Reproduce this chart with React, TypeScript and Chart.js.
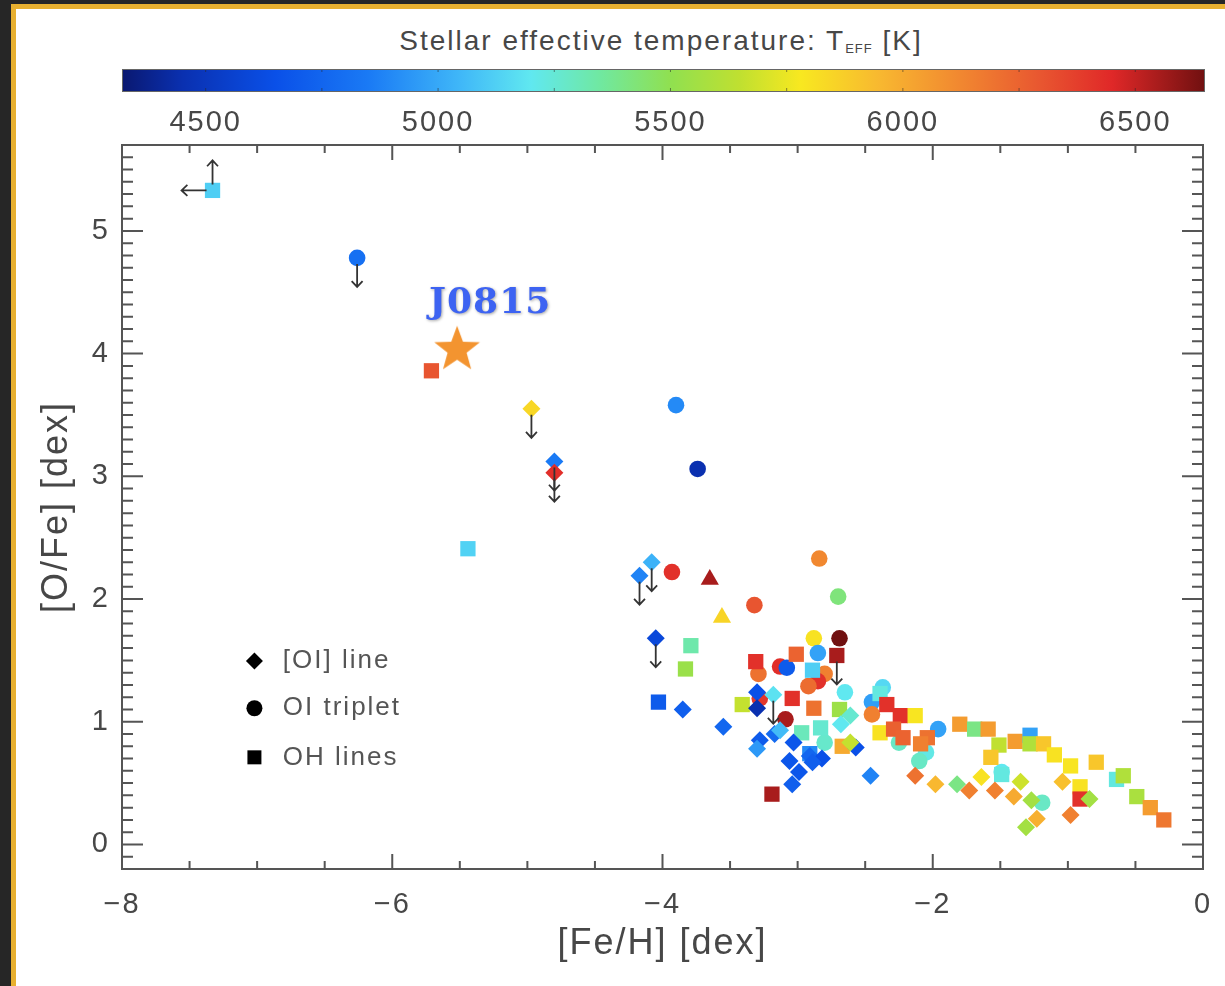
import React, { useEffect, useRef } from 'react';
import { Chart, registerables } from 'chart.js';

Chart.register(...registerables);

const FONT = "'Liberation Sans', Arial, 'DejaVu Sans', sans-serif";
const TEXT = '#474747';
const AXIS = '#555555';

// ---------- colour scale: stellar effective temperature ----------
const TEFF_MIN = 4320;
const TEFF_MAX = 6650;
const TEFF_TICKS = [4500, 5000, 5500, 6000, 6500];
const TEFF_STOPS = [4320, 4450, 4650, 4850, 5050, 5200, 5350, 5500, 5650, 5780, 5950, 6150, 6300, 6450, 6650];
const TEFF_COLORS = ['#0a1870', '#0a30b0', '#0a50e8', '#1a7af5', '#40b8f8', '#60e8f0', '#70e8a0', '#90e050', '#c0e030', '#f8e820', '#f8b830', '#f08030', '#e85530', '#e02828', '#701010'];

// ---------- axes ----------
const FEH_MIN = -8;
const FEH_MAX = 0;
const OFE_MIN = -0.2;
const OFE_MAX = 5.7;
const FEH_TICKS = [-8, -6, -4, -2, 0];
const OFE_TICKS = [0, 1, 2, 3, 4, 5];

// ---------- [OI] line (diamonds) ----------
const OI_LINE_FEH = [-4.97, -4.80, -4.80, -4.08, -4.17, -4.05, -3.85, -3.55, -3.30, -3.18, -3.30, -2.61, -2.68, -3.17, -3.13, -2.57, -2.61, -3.28, -3.30, -3.03, -3.06, -2.91, -2.82, -2.89, -2.99, -3.04, -2.46, -2.13, -1.98, -1.82, -1.64, -1.73, -1.54, -1.40, -1.35, -1.27, -1.23, -1.31, -1.04, -0.84, -0.98];
const OI_LINE_OFE = [3.55, 3.12, 3.03, 2.30, 2.19, 1.68, 1.10, 0.96, 1.24, 1.22, 1.11, 1.05, 0.98, 0.90, 0.93, 0.79, 0.83, 0.85, 0.78, 0.83, 0.68, 0.72, 0.70, 0.67, 0.59, 0.49, 0.56, 0.56, 0.49, 0.49, 0.55, 0.44, 0.44, 0.39, 0.51, 0.36, 0.21, 0.14, 0.51, 0.37, 0.24];
const OI_LINE_TEFF = [5840, 4850, 6430, 5030, 4880, 4600, 4720, 4760, 4650, 5180, 4450, 5260, 5200, 4780, 5060, 4650, 5660, 4700, 4950, 4680, 4680, 4760, 4650, 4720, 4680, 4720, 4880, 6200, 5950, 5400, 5800, 6150, 6150, 6000, 5680, 5560, 5980, 5560, 5920, 5560, 6150];
const OI_LINE_LIMIT = ['down', 'down', 'down', 'down', 'down', 'down', '', '', '', 'down', '', '', '', '', '', '', '', '', '', '', '', '', '', '', '', '', '', '', '', '', '', '', '', '', '', '', '', '', '', '', ''];

// ---------- OI triplet (circles) ----------
const OI_TRIPLET_FEH = [-6.26, -3.90, -3.74, -3.93, -2.84, -2.70, -3.32, -2.88, -2.69, -2.85, -3.13, -3.08, -3.29, -2.80, -2.85, -2.92, -2.65, -3.28, -3.09, -2.80, -2.37, -2.45, -2.45, -2.25, -1.96, -2.05, -2.10, -1.49, -1.19];
const OI_TRIPLET_OFE = [4.78, 3.58, 3.06, 2.22, 2.33, 2.02, 1.95, 1.68, 1.68, 1.56, 1.45, 1.44, 1.39, 1.39, 1.33, 1.29, 1.24, 1.19, 1.02, 0.83, 1.28, 1.16, 1.06, 0.83, 0.94, 0.75, 0.68, 0.59, 0.34];
const OI_TRIPLET_TEFF = [4800, 4900, 4450, 6420, 6120, 5420, 6300, 5800, 6650, 4980, 6430, 4700, 6200, 6150, 6420, 6220, 5200, 6400, 6550, 5270, 5150, 4970, 6150, 5280, 4980, 5220, 5280, 5200, 5280];
const OI_TRIPLET_LIMIT = ['down', '', '', '', '', '', '', '', '', '', '', '', '', '', '', '', '', '', '', '', '', '', '', '', '', '', '', '', ''];

// ---------- OH lines (squares) ----------
const OH_FEH = [-7.33, -5.71, -5.44, -3.79, -3.83, -4.03, -3.01, -2.71, -3.31, -2.89, -3.04, -3.41, -2.88, -2.69, -2.83, -2.97, -2.67, -3.19, -2.91, -2.39, -2.34, -2.24, -2.13, -2.39, -2.29, -2.22, -2.04, -2.09, -1.80, -1.69, -1.59, -1.51, -1.57, -1.39, -1.28, -1.28, -1.18, -1.10, -0.98, -0.79, -0.64, -0.59, -0.49, -0.39, -0.29, -1.49, -0.91, -0.91];
const OH_OFE = [5.33, 3.86, 2.41, 1.62, 1.43, 1.16, 1.55, 1.54, 1.49, 1.42, 1.19, 1.14, 1.11, 1.10, 0.95, 0.91, 0.80, 0.41, 0.74, 1.23, 1.14, 1.05, 1.05, 0.91, 0.94, 0.87, 0.87, 0.82, 0.98, 0.94, 0.94, 0.81, 0.71, 0.84, 0.89, 0.82, 0.82, 0.73, 0.64, 0.67, 0.53, 0.56, 0.39, 0.30, 0.20, 0.57, 0.47, 0.37];
const OH_TEFF = [5120, 6300, 5130, 5330, 5530, 4700, 6250, 6550, 6420, 5120, 6420, 5660, 6200, 5540, 5260, 5300, 6000, 6550, 4900, 5230, 6420, 6420, 5790, 5800, 6260, 6250, 6200, 6150, 6050, 5400, 6050, 5650, 5900, 6050, 4980, 5600, 5900, 5800, 5790, 5900, 5230, 5600, 5580, 6050, 6180, 5230, 5800, 6420];
const OH_LIMIT = ['leftup', '', '', '', '', '', '', 'down', '', '', '', '', '', '', '', '', '', '', '', '', '', '', '', '', '', '', '', '', '', '', '', '', '', '', '', '', '', '', '', '', '', '', '', '', '', '', '', ''];

// ---------- other (triangles) ----------
const TRI_FEH = [-3.65, -3.56];
const TRI_OFE = [2.16, 1.85];
const TRI_TEFF = [6550, 5850];

// ---------- J0815 ----------
const STAR_FEH = [-5.52];
const STAR_OFE = [4.04];
const STAR_TEFF = [6080];
const STAR_LABEL = 'J0815';

// ---------- legend ----------
const LEGEND_LABELS = ['[OI] line', 'OI triplet', 'OH lines'];
const LEGEND_STYLES = ['rectRot', 'circle', 'rect'];
const LEGEND_OFE = [1.495, 1.11, 0.71];
const LEGEND_MARK_FEH = -7.02;
const LEGEND_TEXT_FEH = -6.81;

function hexToRgb(h: string) {
  const n = parseInt(h.slice(1), 16);
  return [(n >> 16) & 255, (n >> 8) & 255, n & 255];
}

function teffColor(t: number): string {
  if (t <= TEFF_STOPS[0]) return TEFF_COLORS[0];
  const last = TEFF_STOPS.length - 1;
  if (t >= TEFF_STOPS[last]) return TEFF_COLORS[last];
  let i = 0;
  while (t > TEFF_STOPS[i + 1]) i++;
  const f = (t - TEFF_STOPS[i]) / (TEFF_STOPS[i + 1] - TEFF_STOPS[i]);
  const a = hexToRgb(TEFF_COLORS[i]);
  const b = hexToRgb(TEFF_COLORS[i + 1]);
  const c = a.map((v, k) => Math.round(v + (b[k] - v) * f));
  return `rgb(${c[0]},${c[1]},${c[2]})`;
}

const pts = (xs: number[], ys: number[]) => xs.map((x, i) => ({ x, y: ys[i] }));
const fmt = (v: number) => (v < 0 ? '\u2212' + Math.abs(v) : String(v));

function drawArrow(ctx: CanvasRenderingContext2D, x0: number, y0: number, x1: number, y1: number) {
  const ang = Math.atan2(y1 - y0, x1 - x0);
  const h = 8;
  ctx.beginPath();
  ctx.moveTo(x0, y0);
  ctx.lineTo(x1, y1);
  ctx.moveTo(x1 - h * Math.cos(ang - 0.75), y1 - h * Math.sin(ang - 0.75));
  ctx.lineTo(x1, y1);
  ctx.lineTo(x1 - h * Math.cos(ang + 0.75), y1 - h * Math.sin(ang + 0.75));
  ctx.stroke();
}

const noPad = (s: any) => {
  s.paddingTop = 0;
  s.paddingBottom = 0;
  s.paddingLeft = 0;
  s.paddingRight = 0;
};

const spacingPlugin = {
  id: 'spacing',
  beforeDraw(chart: any) {
    (chart.ctx as any).letterSpacing = '2px';
  },
};

const frameTicksPlugin = {
  id: 'frameTicks',
  afterDraw(chart: any) {
    const { ctx, chartArea: a, scales } = chart;
    const x = scales.x;
    const y = scales.y;
    ctx.save();
    ctx.strokeStyle = AXIS;
    ctx.lineWidth = 2;
    ctx.strokeRect(a.left, a.top, a.right - a.left, a.bottom - a.top);
    ctx.beginPath();
    for (let k = 0; k <= 16; k++) {
      const v = FEH_MIN + k * 0.5;
      const px = x.getPixelForValue(v);
      const len = k % 4 === 0 ? 15 : 8;
      ctx.moveTo(px, a.bottom);
      ctx.lineTo(px, a.bottom - len);
      ctx.moveTo(px, a.top);
      ctx.lineTo(px, a.top + len);
    }
    for (let k = -1; k <= 57; k++) {
      const py = y.getPixelForValue(k / 10);
      const len = k % 10 === 0 ? 21 : 11;
      ctx.moveTo(a.left, py);
      ctx.lineTo(a.left + len, py);
      ctx.moveTo(a.right, py);
      ctx.lineTo(a.right - len, py);
    }
    ctx.stroke();
    ctx.restore();
  },
};

const limitsPlugin = {
  id: 'limits',
  afterDatasetsDraw(chart: any) {
    const { ctx } = chart;
    ctx.save();
    ctx.strokeStyle = '#333333';
    ctx.lineWidth = 1.8;
    chart.data.datasets.forEach((ds: any, di: number) => {
      if (!ds.limits) return;
      const meta = chart.getDatasetMeta(di);
      ds.limits.forEach((lim: string, i: number) => {
        const el = meta.data[i];
        if (!el || !lim) return;
        const px = el.x;
        const py = el.y;
        if (lim === 'down') {
          drawArrow(ctx, px, py + 6, px, py + 29);
        } else if (lim === 'leftup') {
          drawArrow(ctx, px - 6, py, px - 31, py);
          drawArrow(ctx, px, py - 6, px, py - 30);
        }
      });
    });
    ctx.restore();
  },
};

const labelPlugin = {
  id: 'starLabel',
  afterDatasetsDraw(chart: any) {
    const { ctx } = chart;
    const di = chart.data.datasets.findIndex((d: any) => d.label === STAR_LABEL);
    if (di < 0) return;
    const el = chart.getDatasetMeta(di).data[0];
    ctx.save();
    (ctx as any).letterSpacing = '1px';
    ctx.font = "bold 36px 'DejaVu Serif', 'Liberation Serif', serif";
    ctx.fillStyle = '#3d63f2';
    ctx.textAlign = 'center';
    ctx.textBaseline = 'middle';
    ctx.shadowColor = 'rgba(0,0,0,0.35)';
    ctx.shadowBlur = 3;
    ctx.shadowOffsetX = 1;
    ctx.shadowOffsetY = 1;
    ctx.fillText(STAR_LABEL, el.x + 33, el.y - 45);
    ctx.restore();
  },
};

const legendPlugin = {
  id: 'markerLegend',
  afterDraw(chart: any) {
    const { ctx, scales } = chart;
    const mx = scales.x.getPixelForValue(LEGEND_MARK_FEH);
    const tx = scales.x.getPixelForValue(LEGEND_TEXT_FEH);
    ctx.save();
    LEGEND_LABELS.forEach((lab, i) => {
      const py = scales.y.getPixelForValue(LEGEND_OFE[i]);
      ctx.fillStyle = '#000000';
      ctx.beginPath();
      const st = LEGEND_STYLES[i];
      if (st === 'rectRot') {
        ctx.moveTo(mx - 8.5, py);
        ctx.lineTo(mx, py - 8.5);
        ctx.lineTo(mx + 8.5, py);
        ctx.lineTo(mx, py + 8.5);
        ctx.closePath();
      } else if (st === 'circle') {
        ctx.arc(mx, py, 8, 0, Math.PI * 2);
      } else {
        ctx.rect(mx - 7, py - 7, 14, 14);
      }
      ctx.fill();
      (ctx as any).letterSpacing = '2px';
      ctx.font = `26px ${FONT}`;
      ctx.fillStyle = '#555555';
      ctx.textAlign = 'left';
      ctx.textBaseline = 'middle';
      ctx.fillText(lab, tx, py);
    });
    ctx.restore();
  },
};

const colorbarPlugin = {
  id: 'colorbar',
  beforeDatasetsDraw(chart: any) {
    const { ctx, chartArea: a, scales } = chart;
    const x = scales.x;
    ctx.save();
    const g = ctx.createLinearGradient(a.left, 0, a.right, 0);
    TEFF_STOPS.forEach((t, i) => {
      const f = (x.getPixelForValue(t) - a.left) / (a.right - a.left);
      g.addColorStop(Math.min(1, Math.max(0, f)), TEFF_COLORS[i]);
    });
    ctx.fillStyle = g;
    ctx.fillRect(a.left, a.top, a.right - a.left, a.bottom - a.top);
    ctx.strokeStyle = 'rgba(40,40,40,0.55)';
    ctx.lineWidth = 1;
    ctx.beginPath();
    for (let t = 4500; t <= 6500; t += 250) {
      const px = x.getPixelForValue(t);
      ctx.moveTo(px, a.bottom);
      ctx.lineTo(px, a.bottom - 4);
      ctx.moveTo(px, a.top);
      ctx.lineTo(px, a.top + 3);
    }
    ctx.stroke();
    ctx.strokeStyle = '#666666';
    ctx.strokeRect(a.left + 0.5, a.top + 0.5, a.right - a.left - 1, a.bottom - a.top - 1);
    ctx.restore();
  },
};

export default function App() {
  const mainRef = useRef<HTMLCanvasElement>(null);
  const cbRef = useRef<HTMLCanvasElement>(null);

  useEffect(() => {
    const star = document.createElement('canvas');
    star.width = 52;
    star.height = 52;
    const sg = star.getContext('2d')!;
    sg.beginPath();
    for (let k = 0; k < 10; k++) {
      const R = k % 2 === 0 ? 24 : 10;
      const ang = -Math.PI / 2 + (k * Math.PI) / 5;
      sg.lineTo(26 + R * Math.cos(ang), 27 + R * Math.sin(ang));
    }
    sg.closePath();
    sg.fillStyle = teffColor(STAR_TEFF[0]);
    sg.fill();

    const tickFont = { family: FONT, size: 29 };
    const titleFont = { family: FONT, size: 36 };

    const main = new Chart(mainRef.current!, {
      type: 'scatter',
      data: {
        datasets: [
          {
            label: '[OI] line',
            data: pts(OI_LINE_FEH, OI_LINE_OFE),
            pointStyle: 'rectRot',
            pointRadius: 9,
            pointBackgroundColor: OI_LINE_TEFF.map(teffColor),
            pointBorderWidth: 0,
            limits: OI_LINE_LIMIT,
          } as any,
          {
            label: 'OH lines',
            data: pts(OH_FEH, OH_OFE),
            pointStyle: 'rect',
            pointRadius: 10.8,
            pointBackgroundColor: OH_TEFF.map(teffColor),
            pointBorderWidth: 0,
            limits: OH_LIMIT,
          } as any,
          {
            label: 'OI triplet',
            data: pts(OI_TRIPLET_FEH, OI_TRIPLET_OFE),
            pointStyle: 'circle',
            pointRadius: 8.3,
            pointBackgroundColor: OI_TRIPLET_TEFF.map(teffColor),
            pointBorderWidth: 0,
            limits: OI_TRIPLET_LIMIT,
          } as any,
          {
            label: 'other',
            data: pts(TRI_FEH, TRI_OFE),
            pointStyle: 'triangle',
            pointRadius: 10.5,
            pointBackgroundColor: TRI_TEFF.map(teffColor),
            pointBorderWidth: 0,
          },
          {
            label: STAR_LABEL,
            data: pts(STAR_FEH, STAR_OFE),
            pointStyle: star,
            pointRadius: 24,
          },
        ],
      },
      options: {
        animation: false,
        responsive: false,
        events: [],
        layout: { padding: 0, autoPadding: false },
        plugins: { legend: { display: false }, tooltip: { enabled: false } },
        scales: {
          x: {
            type: 'linear',
            position: 'bottom',
            min: FEH_MIN,
            max: FEH_MAX,
            afterBuildTicks: (s: any) => {
              s.ticks = FEH_TICKS.map((v) => ({ value: v }));
            },
            afterFit: (s: any) => {
              s.height = 117;
              noPad(s);
            },
            grid: { display: false, drawTicks: false },
            border: { display: false },
            ticks: { color: TEXT, font: tickFont, padding: 19, maxRotation: 0, callback: (v: any) => fmt(Number(v)) },
            title: { display: true, text: '[Fe/H] [dex]', color: TEXT, font: titleFont, padding: { top: 0, bottom: 20 } },
          },
          x2: {
            type: 'linear',
            position: 'top',
            min: FEH_MIN,
            max: FEH_MAX,
            afterFit: (s: any) => {
              s.height = 15;
              noPad(s);
            },
            grid: { display: false, drawTicks: false },
            border: { display: false },
            ticks: { display: false },
          },
          y: {
            type: 'linear',
            position: 'left',
            min: OFE_MIN,
            max: OFE_MAX,
            afterBuildTicks: (s: any) => {
              s.ticks = OFE_TICKS.map((v) => ({ value: v }));
            },
            afterFit: (s: any) => {
              s.width = 122;
              noPad(s);
            },
            grid: { display: false, drawTicks: false },
            border: { display: false },
            ticks: { color: TEXT, font: tickFont, padding: 12, callback: (v: any) => fmt(Number(v)) },
            title: { display: true, text: '[O/Fe] [dex]', color: TEXT, font: titleFont, padding: { top: 35, bottom: 0 } },
          },
          y2: {
            type: 'linear',
            position: 'right',
            min: OFE_MIN,
            max: OFE_MAX,
            afterFit: (s: any) => {
              s.width = 22;
              noPad(s);
            },
            grid: { display: false, drawTicks: false },
            border: { display: false },
            ticks: { display: false },
          },
        },
      } as any,
      plugins: [spacingPlugin, frameTicksPlugin, limitsPlugin, labelPlugin, legendPlugin],
    });

    const cb = new Chart(cbRef.current!, {
      type: 'scatter',
      data: { datasets: [] },
      options: {
        animation: false,
        responsive: false,
        events: [],
        layout: { padding: { left: 122, right: 20, top: 69, bottom: 0 }, autoPadding: false },
        plugins: { legend: { display: false }, tooltip: { enabled: false } },
        scales: {
          x: {
            type: 'linear',
            position: 'bottom',
            min: TEFF_MIN,
            max: TEFF_MAX,
            afterBuildTicks: (s: any) => {
              s.ticks = TEFF_TICKS.map((v) => ({ value: v }));
            },
            afterFit: (s: any) => {
              s.height = 53;
              noPad(s);
            },
            grid: { display: false, drawTicks: false },
            border: { display: false },
            ticks: { color: TEXT, font: tickFont, padding: 14, maxRotation: 0, callback: (v: any) => String(v) },
          },
          y: { display: false, min: 0, max: 1 },
        },
      } as any,
      plugins: [spacingPlugin, colorbarPlugin],
    });

    return () => {
      main.destroy();
      cb.destroy();
    };
  }, []);

  return (
    <div style={{ position: 'absolute', left: 0, top: 0, width: 1225, height: 986, background: '#262626', overflow: 'hidden' }}>
      <div style={{ position: 'absolute', left: 11, top: 4, width: 1240, height: 1000, background: '#e8b030' }} />
      <div style={{ position: 'absolute', left: 16, top: 9, width: 1240, height: 1000, background: '#ffffff' }} />
      <div
        style={{
          position: 'absolute',
          left: 661,
          top: 27,
          transform: 'translateX(-50%)',
          whiteSpace: 'nowrap',
          fontFamily: FONT,
          fontSize: 28,
          lineHeight: '28px',
          letterSpacing: '2px',
          color: TEXT,
        }}
      >
        Stellar effective temperature: T
        <span style={{ fontSize: 13, letterSpacing: '1px', verticalAlign: '-3px' }}>EFF</span> [K]
      </div>
      <canvas ref={cbRef} width={1225} height={145} style={{ position: 'absolute', left: 0, top: 0, width: 1225, height: 145 }} />
      <canvas ref={mainRef} width={1225} height={856} style={{ position: 'absolute', left: 0, top: 130, width: 1225, height: 856 }} />
    </div>
  );
}
